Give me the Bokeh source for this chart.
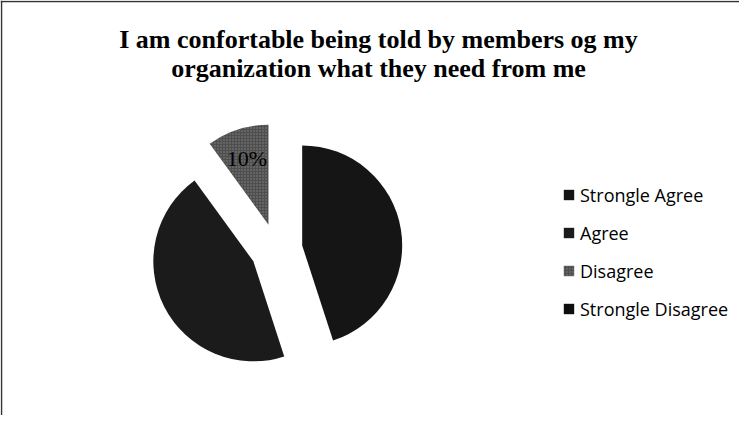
import math
from bokeh.plotting import figure
from bokeh.models import ColumnDataSource, Legend, LegendItem, Label, Range1d, Span
from bokeh.embed import file_html
from bokeh.resources import INLINE
from bokeh.core.properties import value

# ---- data ----
title_lines = ["I am confortable being told by members og my",
               "organization what they need from me"]
categories = ["Strongle Agree", "Agree", "Disagree", "Strongle Disagree"]
percent = [45, 45, 10, 0]
slice_labels = ["", "", "10%", ""]      # only the Disagree label is legible in the original
colors = ["#151515", "#1b1b1b", "#4e4e4e", "#0e0e0e"]

# ---- layout ----
W, H = 739, 415
CX, CY, R, EXPLODE = 276, 166, 100, 26

p = figure(width=W, height=H, output_backend="svg", toolbar_location=None,
           x_range=Range1d(0, W), y_range=Range1d(0, H), min_border=0,
           x_axis_type=None, y_axis_type=None)
p.grid.visible = False
p.outline_line_color = None
p.background_fill_color = "white"
p.border_fill_color = "white"

total = float(sum(percent))
start = 0.0
items = []
lab_x, lab_y, lab_t = [], [], []
for cat, val, col, lab in zip(categories, percent, colors, slice_labels):
    frac = val / total
    a0 = math.pi / 2 - 2 * math.pi * start
    a1 = math.pi / 2 - 2 * math.pi * (start + frac)
    mid = (a0 + a1) / 2
    x = CX + EXPLODE * math.cos(mid)
    y = CY + EXPLODE * math.sin(mid)
    # a 0 % slice keeps its legend entry but draws nothing (radius 0)
    src = ColumnDataSource(dict(x=[x], y=[y], a0=[a0], a1=[a1],
                                rad=[R if val > 0 else 0]))
    kw = {}
    if cat == "Disagree":
        kw = dict(hatch_pattern="dot", hatch_color="#b0b0b0", hatch_alpha=0.55, hatch_scale=3)
    r = p.wedge(x="x", y="y", radius="rad", start_angle="a0", end_angle="a1",
                direction="clock", source=src, fill_color=col, line_color=None, **kw)
    items.append(LegendItem(label=cat, renderers=[r]))
    if lab:
        lab_x.append(x + 0.70 * R * math.cos(mid))
        lab_y.append(y + 0.70 * R * math.sin(mid))
        lab_t.append(lab)
    start += frac

p.text(x=lab_x, y=lab_y, text=lab_t, text_align="center", text_baseline="middle",
       text_font=value("Liberation Serif"), text_font_size="22px", text_color="#000000")

# title (two centred lines)
for i, line in enumerate(title_lines):
    p.add_layout(Label(x=378, y=376 - 29 * i, text=line, text_align="center",
                       text_baseline="alphabetic", text_font="Liberation Serif",
                       text_font_style="bold", text_font_size="26px", text_color="#000000"))

legend = Legend(items=items, location=(562, 94), orientation="vertical",
                glyph_width=13, glyph_height=13, label_standoff=5, spacing=13,
                label_height=25, padding=0, margin=0, border_line_color=None,
                background_fill_alpha=0, label_text_font="Open Sans",
                label_text_font_size="18px", label_text_color="#000000")
p.add_layout(legend)

# frame lines (top and left, as in the original)
p.add_layout(Span(location=H - 1, dimension="width", line_color="#333333", line_width=1.5))
p.add_layout(Span(location=1, dimension="height", line_color="#333333", line_width=1.5))

open("out.html", "w").write(file_html(p, INLINE))
